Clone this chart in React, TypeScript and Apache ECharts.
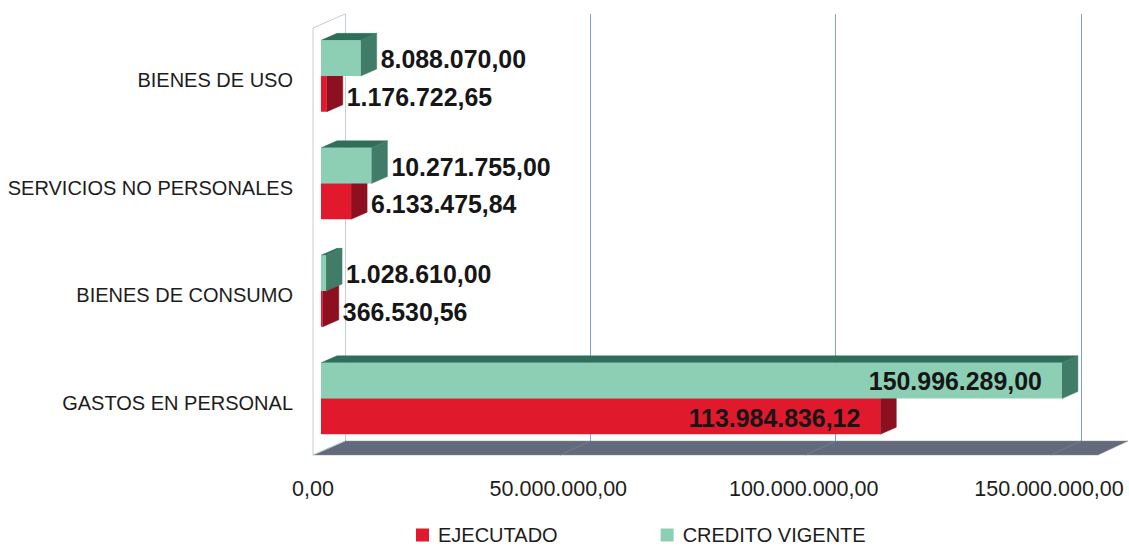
import React, { useEffect, useRef } from "react";
import * as echarts from "echarts";

const categories = ["BIENES DE USO", "SERVICIOS NO PERSONALES", "BIENES DE CONSUMO", "GASTOS EN PERSONAL"];
const ejecutado = [1176722.65, 6133475.84, 366530.56, 113984836.12];
const creditoVigente = [8088070, 10271755, 1028610, 150996289];
const axisTicks = [0, 50000000, 100000000, 150000000];

const FONT = '"Liberation Sans", Arial, sans-serif';
const fmt = (v: number) =>
  v.toFixed(2).replace(".", ",").replace(/\B(?=(\d{3})+(?!\d))/g, ".");

const BAR_DX = -24;
const BAR_DY = 8.3;
const DEPTH_X = 16;
const DEPTH_Y = -7;

function barRender(face: string, side: string, top: string, upper: boolean) {
  return (params: any, api: any) => {
    const value = api.value(0);
    const idx = api.value(1);
    const end = api.coord([value, idx]);
    const start = api.coord([0, idx]);
    const h = api.size([0, 1])[1] * 0.332;
    const x0 = start[0] + BAR_DX;
    const x1 = end[0] + BAR_DX;
    const cy = start[1] + BAR_DY;
    const y0 = upper ? cy - h : cy;
    const y1 = upper ? cy : cy + h;
    const inside = value > 100000000;
    const poly = (points: number[][], fill: string) => ({
      type: "polygon",
      shape: { points },
      style: { fill, stroke: fill, lineWidth: 0.5 },
    });
    return {
      type: "group",
      children: [
        poly([[x0, y0], [x1, y0], [x1 + DEPTH_X, y0 + DEPTH_Y], [x0 + DEPTH_X, y0 + DEPTH_Y]], top),
        poly([[x1, y0], [x1 + DEPTH_X, y0 + DEPTH_Y], [x1 + DEPTH_X, y1 + DEPTH_Y], [x1, y1]], side),
        { type: "rect", shape: { x: x0, y: y0, width: x1 - x0, height: y1 - y0 }, style: { fill: face } },
        {
          type: "text",
          style: {
            text: fmt(value),
            x: inside ? x1 - 20 : x1 + DEPTH_X + 4,
            y: (y0 + y1) / 2 + (upper ? (inside ? 0 : 1) : inside ? 2 : 3),
            fill: "#161616",
            font: `bold 24.9px ${FONT}`,
            textAlign: inside ? "right" : "left",
            textVerticalAlign: "middle",
          },
        },
      ],
    };
  };
}

function frameRender(params: any, api: any) {
  const a = api.coord([0, 0]);
  const band = api.size([0, 1])[1];
  const topY = a[1] - band / 2;
  const floorY = 441;
  const x0 = a[0];
  const xMax = api.coord([axisTicks[3], 0])[0];
  const wall = "#c3ced6";
  const line = (x1: number, y1: number, x2: number, y2: number, stroke: string) => ({
    type: "line",
    shape: { x1, y1, x2, y2 },
    style: { stroke, lineWidth: 1 },
  });
  return {
    type: "group",
    children: [
      {
        type: "polygon",
        shape: { points: [[x0 - 32, floorY + 14], [xMax + 17, floorY + 14], [xMax + 47, floorY], [x0, floorY]] },
        style: { fill: "#626a7b", stroke: "#8a909c", lineWidth: 0.5 },
      },
      ...axisTicks.slice(1).map((t) => {
        const x = api.coord([t, 0])[0];
        return line(x, floorY, x - 30, floorY + 14, "#757c8b");
      }),
      line(x0 - 32, topY + 14, x0 - 32, floorY + 14, wall),
      line(x0 - 32, topY + 14, x0, topY, wall),
      line(x0 - 32, floorY + 14, x0, floorY, wall),
    ],
  };
}

export default function App() {
  const ref = useRef<HTMLDivElement>(null);
  useEffect(() => {
    const chart = echarts.init(ref.current!, undefined, { renderer: "svg" });
    const textStyle = { color: "#1c1c1c", fontFamily: FONT };
    chart.setOption({
      animation: false,
      backgroundColor: "#ffffff",
      grid: { left: 345, top: 14, width: 736, height: 430, containLabel: false },
      legend: {
        data: ["EJECUTADO", "CREDITO VIGENTE"],
        left: 411,
        top: 518,
        icon: "rect",
        itemWidth: 13,
        itemHeight: 13,
        itemGap: 103,
        textStyle: { ...textStyle, fontSize: 20, padding: [0, 0, 0, 4], lineHeight: 24 },
      },
      xAxis: {
        type: "value",
        min: axisTicks[0],
        max: axisTicks[3],
        interval: axisTicks[1],
        axisLine: { show: false },
        axisTick: { show: false },
        splitLine: {
          show: true,
          showMinLine: true,
          showMaxLine: true,
          lineStyle: { color: ["#c3ced6", "#7ba6c6", "#7ba6c6", "#7ba6c6"], width: 1 },
        },
        axisLabel: {
          ...textStyle,
          fontSize: 21.5,
          margin: 34,
          padding: [0, 64, 0, 0],
          formatter: (v: number) => fmt(v),
        },
      },
      yAxis: {
        type: "category",
        inverse: true,
        data: categories,
        axisLine: { show: false },
        axisTick: { show: false },
        splitLine: { show: false },
        axisLabel: {
          ...textStyle,
          fontSize: 20,
          margin: 52,
          verticalAlign: "top",
          lineHeight: 25,
        },
      },
      series: [
        { type: "custom", name: "frame", silent: true, renderItem: frameRender, data: [[0, 0]], encode: { x: 0, y: 1 } },
        {
          type: "custom",
          name: "EJECUTADO",
          itemStyle: { color: "#e0192d" },
          renderItem: barRender("#e0192d", "#8c1020", "#8c1020", false),
          data: ejecutado.map((v, i) => [v, i]),
          encode: { x: 0, y: 1 },
        },
        {
          type: "custom",
          name: "CREDITO VIGENTE",
          itemStyle: { color: "#8dcfb4" },
          renderItem: barRender("#8dcfb4", "#417c68", "#2f6e5a", true),
          data: creditoVigente.map((v, i) => [v, i]),
          encode: { x: 0, y: 1 },
        },
      ],
    });
    return () => chart.dispose();
  }, []);
  return <div ref={ref} style={{ position: "absolute", left: 0, top: 0, width: 1129, height: 547 }} />;
}
